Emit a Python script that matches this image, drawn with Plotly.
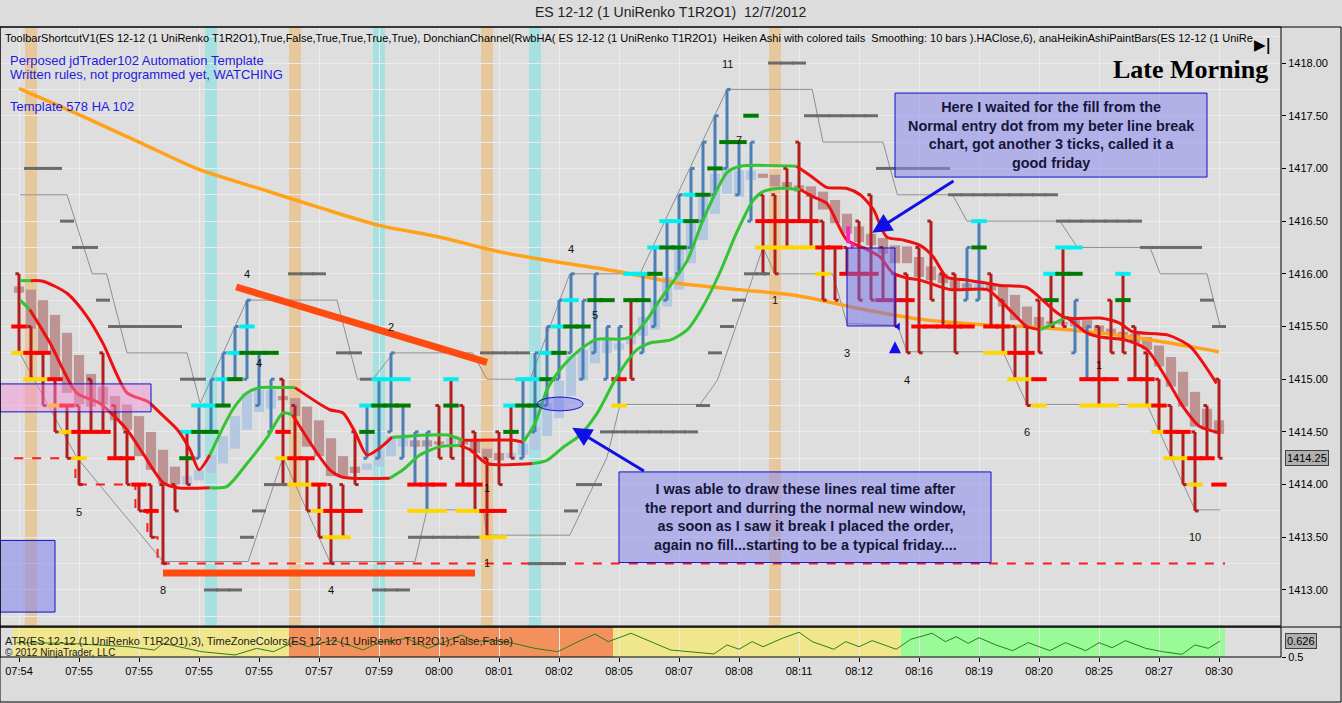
import plotly.graph_objects as go

# ---------------------------------------------------------------- data
time_labels = ["07:54", "07:55", "07:55", "07:55", "07:55", "07:57", "07:59", "08:00", "08:01", "08:02",
               "08:05", "08:07", "08:08", "08:11", "08:12", "08:16", "08:19", "08:20", "08:25", "08:27", "08:30"]
tick_bars = list(range(0, 101, 5))
price_ticks = [1413.0, 1413.5, 1414.0, 1414.5, 1415.0, 1415.5, 1416.0, 1416.5, 1417.0, 1417.5, 1418.0]

bar_high = [1416.00, 1415.50, 1415.25, 1415.00, 1414.75, 1414.75, 1415.00, 1415.25, 1414.75, 1414.50,
            1414.00, 1414.00, 1414.00, 1414.00, 1414.50, 1414.75, 1415.00, 1415.25, 1415.50, 1415.75,
            1415.25, 1415.00, 1415.00, 1414.75, 1414.25, 1414.00, 1414.00, 1414.00, 1414.50, 1414.75,
            1415.00, 1415.25, 1414.75, 1414.50, 1414.50, 1414.75, 1415.00, 1414.75, 1414.50, 1414.25,
            1414.50, 1414.75, 1415.00, 1415.25, 1415.50, 1415.75, 1416.00, 1415.75, 1416.00, 1415.50,
            1415.50, 1415.75, 1416.00, 1416.25, 1416.50, 1416.75, 1417.00, 1417.25, 1417.50, 1417.75,
            1417.25, 1417.25, 1416.75, 1416.75, 1417.00, 1417.25, 1416.75, 1416.50, 1416.25, 1416.25,
            1416.50, 1416.75, 1416.25, 1416.00, 1416.00, 1416.25, 1416.50, 1416.00, 1416.00, 1416.25,
            1416.50, 1416.00, 1415.75, 1415.50, 1415.50, 1415.75, 1416.00, 1416.25, 1415.75, 1415.50,
            1415.50, 1415.75, 1416.00, 1415.50, 1415.25, 1415.00, 1414.75, 1414.50, 1414.50, 1414.75,
            1415.00]
bar_low = [1415.25, 1415.00, 1414.75, 1414.50, 1414.25, 1414.00, 1414.50, 1414.50, 1414.25, 1414.00,
           1413.75, 1413.50, 1413.25, 1413.75, 1414.00, 1414.25, 1414.50, 1414.75, 1415.00, 1415.00,
           1414.75, 1414.50, 1414.00, 1414.00, 1413.75, 1413.50, 1413.25, 1413.50, 1414.00, 1414.25,
           1414.25, 1414.50, 1414.25, 1414.00, 1413.75, 1414.25, 1414.25, 1414.00, 1413.75, 1413.50,
           1414.00, 1414.25, 1414.25, 1414.50, 1414.75, 1415.00, 1415.25, 1415.00, 1415.25, 1415.00,
           1414.75, 1415.00, 1415.25, 1415.50, 1415.75, 1416.00, 1416.25, 1416.50, 1416.75, 1417.00,
           1416.75, 1416.50, 1416.00, 1416.00, 1416.25, 1416.50, 1416.25, 1415.75, 1415.75, 1416.00,
           1415.75, 1415.75, 1415.75, 1415.50, 1415.25, 1415.25, 1415.75, 1415.50, 1415.25, 1415.75,
           1415.75, 1415.50, 1415.25, 1415.00, 1414.75, 1415.25, 1415.50, 1415.50, 1415.25, 1415.00,
           1414.75, 1415.25, 1415.25, 1415.00, 1414.75, 1414.50, 1414.25, 1414.00, 1413.75, 1414.25,
           1414.25]
bar_dir = ("ddddddddddddddd" "uuuuuuu" "ddddddd" "uuuuuu" "ddddddd" "uuuuuuuuu" "d"
           "uuuuuuuuuu" "ddddddddddddddddd" "uu" "ddddddd" "uu" "ddddddddddd")

ha_open = [1415.88, 1415.85, 1415.75, 1415.61, 1415.44, 1415.23, 1415.05, 1414.93, 1414.84, 1414.76,
           1414.65, 1414.50, 1414.33, 1414.17, 1414.00, 1414.04, 1414.11, 1414.20, 1414.34, 1414.52,
           1414.69, 1414.72, 1414.84, 1414.82, 1414.74, 1414.61, 1414.44, 1414.27, 1414.17, 1414.14,
           1414.17, 1414.27, 1414.36, 1414.42, 1414.42, 1414.41, 1414.39, 1414.42, 1414.41, 1414.34,
           1414.30, 1414.25, 1414.28, 1414.33, 1414.46, 1414.63, 1414.84, 1414.99, 1415.15, 1415.25,
           1415.28, 1415.33, 1415.41, 1415.47, 1415.69, 1415.85, 1416.10, 1416.32, 1416.57, 1416.76,
           1416.73, 1416.89, 1416.95, 1416.94, 1416.87, 1416.84, 1416.83, 1416.78, 1416.70, 1416.57,
           1416.45, 1416.38, 1416.34, 1416.27, 1416.26, 1416.16, 1416.07, 1416.00, 1415.94, 1415.91,
           1415.86, 1415.91, 1415.88, 1415.80, 1415.69, 1415.59, 1415.55, 1415.54, 1415.56, 1415.56,
           1415.51, 1415.48, 1415.45, 1415.43, 1415.40, 1415.32, 1415.21, 1415.07, 1414.88, 1414.72,
           1414.61]
ha_close = [1415.82, 1415.48, 1415.25, 1414.99, 1414.87, 1414.76, 1414.74, 1414.76, 1414.61, 1414.52,
            1414.27, 1414.14, 1414.01, 1414.00, 1414.08, 1414.14, 1414.28, 1414.46, 1414.65, 1414.87,
            1414.90, 1414.90, 1414.80, 1414.65, 1414.36, 1414.27, 1414.08, 1414.08, 1414.11, 1414.20,
            1414.33, 1414.46, 1414.46, 1414.36, 1414.36, 1414.38, 1414.44, 1414.38, 1414.30, 1414.25,
            1414.23, 1414.30, 1414.39, 1414.55, 1414.77, 1414.99, 1415.22, 1415.28, 1415.37, 1415.39,
            1415.34, 1415.41, 1415.59, 1415.75, 1415.97, 1416.26, 1416.51, 1416.73, 1416.95, 1417.00,
            1416.98, 1416.98, 1416.91, 1416.83, 1416.81, 1416.78, 1416.73, 1416.61, 1416.48, 1416.38,
            1416.30, 1416.27, 1416.19, 1416.10, 1416.10, 1415.97, 1415.94, 1415.91, 1415.84, 1415.84,
            1415.94, 1415.84, 1415.69, 1415.56, 1415.50, 1415.50, 1415.52, 1415.52, 1415.50, 1415.48,
            1415.43, 1415.42, 1415.39, 1415.34, 1415.28, 1415.12, 1414.93, 1414.74, 1414.55, 1414.53,
            1414.48]

red_bars = [0, 1, 2, 3, 4, 5, 6, 7, 8, 9, 10, 11, 22, 23, 24, 25, 26, 27, 28, 33, 34, 35, 37, 38, 39, 40, 50,
            62, 63, 64, 65, 66, 67, 68, 69, 70, 71, 74, 75, 76, 77, 78, 79, 81, 82, 83, 84, 85, 89, 90, 91,
            93, 94, 95, 96, 97, 98, 99, 100]
red_prices = [1415.50, 1415.25, 1415.25, 1415.00, 1414.75, 1414.50, 1414.50, 1414.50, 1414.25, 1414.25, 1414.00, 1413.75,
              1414.50, 1414.25, 1414.25, 1414.00, 1413.75, 1413.75, 1413.75,
              1414.00, 1414.00, 1414.00, 1414.00, 1414.00, 1413.75, 1413.75, 1415.00,
              1416.50, 1416.50, 1416.50, 1416.50, 1416.50, 1416.25, 1416.25, 1416.00, 1416.00, 1416.00,
              1415.75, 1415.50, 1415.50, 1415.50, 1415.50, 1415.50,
              1415.50, 1415.50, 1415.25, 1415.25, 1415.00, 1415.00, 1415.00, 1415.00,
              1415.00, 1415.00, 1414.75, 1414.50, 1414.50, 1414.25, 1414.25, 1414.00]
crimson_bars = [72, 73]
crimson_prices = [1415.75, 1415.75]
yellow_bars = [0, 1, 2, 3, 4, 5, 22, 23, 24, 25, 26, 27, 33, 34, 35, 37, 38, 39, 40, 50,
               62, 63, 64, 65, 66, 67, 81, 82, 83, 84, 85, 89, 90, 91, 93, 94, 95, 96, 97, 98]
yellow_prices = [1415.25, 1415.00, 1415.00, 1414.75, 1414.50, 1414.25, 1414.25, 1414.00, 1414.00, 1413.75, 1413.50, 1413.50,
                 1413.75, 1413.75, 1413.75, 1413.75, 1413.75, 1413.50, 1413.50, 1414.75,
                 1416.25, 1416.25, 1416.25, 1416.25, 1416.25, 1416.00, 1415.25, 1415.25, 1415.00, 1415.00, 1414.75,
                 1414.75, 1414.75, 1414.75, 1414.75, 1414.75, 1414.50, 1414.25, 1414.25, 1414.00]
cyan_bars = [14, 15, 16, 17, 18, 19, 29, 30, 31, 32, 36, 41, 42, 43, 44, 45, 46, 51, 52, 53, 54, 55, 56, 80, 86, 87, 88, 92]
cyan_prices = [1414.50, 1414.75, 1414.75, 1415.00, 1415.25, 1415.50, 1414.75, 1415.00, 1415.00, 1415.00, 1415.00,
               1414.75, 1415.00, 1415.00, 1415.25, 1415.50, 1415.75, 1416.00, 1416.00, 1416.25, 1416.50, 1416.50, 1416.75,
               1416.50, 1416.00, 1416.25, 1416.25, 1416.00]
green_bars = [14, 15, 16, 17, 18, 19, 20, 21, 29, 30, 31, 32, 36, 41, 42, 43, 44, 45, 46, 47, 48, 49,
              51, 52, 53, 54, 55, 56, 57, 58, 59, 60, 61, 80, 86, 87, 88, 92]
green_prices = [1414.25, 1414.50, 1414.50, 1414.75, 1415.00, 1415.25, 1415.25, 1415.25,
                1414.50, 1414.75, 1414.75, 1414.75, 1414.75,
                1414.50, 1414.75, 1414.75, 1415.00, 1415.25, 1415.50, 1415.50, 1415.75, 1415.75,
                1415.75, 1415.75, 1416.00, 1416.25, 1416.25, 1416.50, 1416.75, 1417.00, 1417.25, 1417.25, 1417.50,
                1416.25, 1415.75, 1416.00, 1416.00, 1415.75]

grey_run_start = [1, 4, 5, 7, 8, 14, 16, 19, 20, 21, 23, 27, 29, 30, 33, 39, 43, 46, 47, 49,
                  57, 58, 59, 60, 61, 63, 66, 72, 78, 87, 94, 99, 100]
grey_run_end = [3, 4, 6, 7, 13, 15, 18, 19, 20, 22, 25, 28, 29, 32, 38, 42, 45, 46, 48, 56,
                57, 58, 59, 60, 62, 65, 71, 77, 86, 93, 98, 99, 100]
grey_run_price = [1417.0, 1416.5, 1416.25, 1415.75, 1415.5, 1415.0, 1413.0, 1413.5, 1413.75, 1414.0,
                  1416.0, 1415.25, 1415.0, 1413.0, 1413.5, 1415.25, 1413.25, 1413.75, 1414.0, 1414.5,
                  1414.75, 1415.25, 1415.5, 1415.75, 1416.0, 1418.0, 1417.5, 1417.0, 1416.75, 1416.5,
                  1416.25, 1415.75, 1415.5]

upper_bars = [0.1, 4, 6.1, 7.3, 9, 14, 15.1, 19, 26.5, 28.2, 29.5, 31.2, 37.8, 39, 42.6, 45.9, 51.75, 59, 66.1, 67,
              72, 73.2, 77.8, 79, 86.75, 88.2, 94.25, 95.1, 99, 100.1]
upper_prices = [1416.75, 1416.75, 1416.0, 1416.0, 1415.25, 1415.25, 1414.77, 1415.75, 1415.75, 1415.0,
                1415.0, 1415.25, 1415.25, 1415.0, 1415.0, 1416.0, 1416.0, 1417.75, 1417.75, 1417.25,
                1417.25, 1416.75, 1416.75, 1416.5, 1416.5, 1416.25, 1416.25, 1416.0, 1416.0, 1415.5]
lower_bars = [0, 4.8, 12, 19.1, 22, 25.9, 33, 34, 38.7, 39, 45.9, 49, 50.1, 56.75, 58.2, 62, 63, 67.8, 69,
              73.2, 74, 82, 84, 94, 98, 100.1]
lower_prices = [1415.26, 1414.26, 1413.27, 1413.27, 1414.26, 1413.27, 1413.27, 1413.76, 1413.76, 1413.52,
                1413.52, 1414.26, 1414.76, 1414.76, 1414.99, 1416.25, 1416.0, 1416.0, 1415.53, 1415.51,
                1415.26, 1415.26, 1414.76, 1414.76, 1413.76, 1413.76]

stop_bars = [-0.4, 4.7, 9.7, 10.7, 11.55, 100.5]
stop_prices = [1414.25, 1414.00, 1413.75, 1413.50, 1413.25, 1413.25]

sma_bars = list(range(0, 101, 5))
sma_prices = [1417.76, 1417.51, 1417.25, 1416.99, 1416.81, 1416.63, 1416.46, 1416.35, 1416.21, 1416.11,
              1416.02, 1415.91, 1415.85, 1415.79, 1415.67, 1415.57, 1415.52, 1415.49, 1415.44, 1415.36, 1415.26]

fast_bars = [0.1, 1.0, 2.0, 4.0, 5.7, 7.0, 9.0, 10.7, 11.75, 13.2, 14.25, 15.0, 15.9, 17.8, 19.0, 20.1, 22.0, 23.0,
             25.9, 27.0, 28.0, 29.0, 30.1, 31.1, 35.7, 37.0, 41.2, 42.0, 43.0, 44.0, 45.3, 46.75, 48.2, 50.1, 51.0,
             52.3, 53.4, 55.7, 57.0, 59.0, 60.1, 64.8, 66.2, 67.3, 69.0, 70.1, 71.2, 72.3, 73.7, 75.1, 76.2, 77.3,
             79.0, 80.7, 81.75, 84.0, 85.3, 86.5, 87.3, 90.1, 91.75, 92.8, 95.7, 97.6, 99.8]
fast_prices = [1415.935, 1415.935, 1415.93, 1415.815, 1415.59, 1415.34, 1414.87, 1414.79, 1414.68, 1414.52, 1414.33,
               1414.14, 1414.28, 1414.71, 1414.87, 1414.92, 1414.92, 1414.92, 1414.71, 1414.68, 1414.50, 1414.28,
               1414.35, 1414.45, 1414.47, 1414.42, 1414.42, 1414.40, 1414.58, 1414.90, 1415.12, 1415.28, 1415.38,
               1415.38, 1415.40, 1415.56, 1415.75, 1416.13, 1416.51, 1416.96, 1417.02, 1417.02, 1416.91, 1416.82,
               1416.81, 1416.75, 1416.61, 1416.35, 1416.32, 1416.27, 1416.16, 1415.97, 1415.94, 1415.91, 1415.89,
               1415.87, 1415.75, 1415.63, 1415.58, 1415.58, 1415.53, 1415.45, 1415.42, 1415.31, 1414.96]
fast_colors = "g" + "r" * 11 + "g" * 5 + "r" * 6 + "g" * 2 + "r" * 2 + "g" * 14 + "r" * 23

slow_bars = [0.1, 0.9, 2.6, 4.8, 6.75, 9.0, 10.3, 12.0, 13.2, 15.9, 17.3, 19.0, 20.7, 22.0, 22.8, 25.9, 27.0,
             30.9, 32.0, 33.4, 35.1, 36.75, 37.6, 39.0, 42.8, 44.0, 45.3, 46.75, 48.2, 49.8, 51.5, 52.8, 54.25,
             55.7, 57.0, 58.4, 59.8, 61.2, 62.0, 63.2, 65.1, 66.2, 67.3, 69.0, 70.7, 71.75, 72.8, 74.0, 75.1,
             77.6, 80.7, 81.75, 82.8, 84.0, 85.1, 85.9, 87.3, 89.0, 90.1, 92.3, 94.0, 95.7, 97.0, 98.4, 100.1]
slow_prices = [1415.75, 1415.66, 1415.34, 1414.87, 1414.77, 1414.52, 1414.30, 1414.02, 1413.97, 1413.97, 1413.98,
               1414.20, 1414.45, 1414.68, 1414.66, 1414.14, 1414.07, 1414.06, 1414.14, 1414.28, 1414.36, 1414.37,
               1414.33, 1414.20, 1414.20, 1414.23, 1414.35, 1414.47, 1414.68, 1415.02, 1415.28, 1415.35, 1415.37,
               1415.47, 1415.69, 1416.01, 1416.39, 1416.70, 1416.78, 1416.81, 1416.80, 1416.73, 1416.67, 1416.32,
               1416.23, 1416.16, 1416.01, 1415.96, 1415.94, 1415.85, 1415.85, 1415.75, 1415.63, 1415.50, 1415.47,
               1415.51, 1415.59, 1415.44, 1415.40, 1415.37, 1415.28, 1414.99, 1414.74, 1414.55, 1414.49]
slow_colors = "g" + "r" * 8 + "g" * 5 + "r" * 3 + "g" * 4 + "r" * 3 + "g" * 16 + "r" * 14 + "g" * 2 + "r" * 8

atr_bars = [-0.2, 4.1, 9.1, 11.3, 12, 15.2, 18, 19.8, 21.2, 23, 24.1, 26.2, 28.7, 29.8, 32.3, 34.1, 36.9, 38, 39.4, 41.2,
            43, 44.9, 46.6, 48, 49.1, 51, 54.3, 57.9, 59, 60, 61.1, 62, 63.6, 65, 66.1, 67.9, 68.9, 70, 71.1, 73.1,
            74.3, 76.1, 77.2, 78.1, 79.1, 80, 81.4, 82.8, 84.1, 85.9, 87.2, 88.9, 90, 91.1, 92.2, 93.9, 95.3, 96.9, 98,
            99.1, 100.1]
atr_values = [0.613, 0.608, 0.581, 0.555, 0.608, 0.542, 0.516, 0.568, 0.542, 0.621, 0.581, 0.634, 0.555, 0.608, 0.647,
              0.568, 0.673, 0.621, 0.634, 0.608, 0.568, 0.542, 0.621, 0.681, 0.621, 0.687, 0.555, 0.524, 0.595, 0.561,
              0.621, 0.581, 0.647, 0.695, 0.621, 0.561, 0.621, 0.581, 0.629, 0.561, 0.639, 0.687, 0.621, 0.660, 0.608,
              0.652, 0.595, 0.550, 0.613, 0.550, 0.613, 0.550, 0.613, 0.573, 0.629, 0.568, 0.542, 0.521, 0.595, 0.568,
              0.626]

tz_start = [-0.5, 22.5, 49.5, 73.5]
tz_end = [22.5, 49.5, 73.5, 100.5]
tz_colors = ["#f0e68c", "#f2915c", "#f0e68c", "#98fb98"]

band_bars = [1, 16, 23, 30, 39, 43, 63]
band_colors = ["#e6c89c", "#a6e0e0", "#e6c89c", "#a6e0e0", "#e6c89c", "#a6e0e0", "#e6c89c"]

count_text = ["11", "7", "4", "4", "2", "4", "5", "1", "3", "4", "6", "1", "10", "5", "8", "4", "1", "1"]
count_bars = [59, 60, 19, 20, 31, 46, 48, 63, 69, 74, 84, 90, 98, 5, 12, 26, 39, 39]
count_prices = [1417.99, 1417.27, 1416.0, 1415.15, 1415.5, 1416.24, 1415.61, 1415.75, 1415.25, 1414.99,
                1414.5, 1415.13, 1413.5, 1413.74, 1413.0, 1413.0, 1413.26, 1413.97]

trend_bars = [[18.1, 39.0], [12.0, 38.0]]
trend_prices = [[1415.875, 1415.16], [1413.16, 1413.16]]

note1_lines = ["Here I waited for the fill from the", "Normal entry dot from my beter line break",
               "chart, got another 3 ticks, called it a", "good friday"]
note2_lines = ["I was able to draw these lines real time after", "the report and durring the normal new window,",
               "as soon as I saw it break I placed the order,", "again no fill...starting to be a typical friday...."]
note1_box = [73.0, 99.0, 1416.918, 1417.715]
note2_box = [50.0, 81.0, 1413.26, 1414.12]
pink_box = [-1.6, 11.0, 1414.69, 1414.955]
left_box = [-1.6, 3.0, 1412.79, 1413.47]
mid_box = [69.0, 73.0, 1415.505, 1416.245]
ellipse_box = [43.17, 47.0, 1414.70, 1414.83]
arrow1 = [78.0, 1416.89, 71.1, 1416.39]   # tail x, tail y, head x, head y
arrow2 = [52.2, 1414.12, 46.1, 1414.54]

last_price = 1414.25
last_atr = 0.626

# ---------------------------------------------------------------- geometry
W, H = 1342, 703
ML, MR, MT, MB = 0, 61, 27, 46
PW, PH = W - ML - MR, H - MT - MB
BAR_PX = 12.0
X0 = -19.0 / BAR_PX
XR = [X0, X0 + PW / BAR_PX]
YR = [1412.658, 1418.342]
ATR_R = [0.5, 0.7364]


def py(pix):
    return (H - MB - pix) / PH


def pxp(pix):
    return (pix - ML) / PW


MAIN_DOM = [py(626), 1.0]
SUB_DOM = [0.0, py(627)]
FONT = "Liberation Sans"

fig = go.Figure()
shapes = []
annos = []

# background bands
for b, c in zip(band_bars, band_colors):
    shapes.append(dict(type="rect", xref="x", yref="paper", x0=b - 0.5, x1=b + 0.5,
                       y0=MAIN_DOM[0], y1=1, fillcolor=c, line_width=0, layer="below"))
for s, e, c in zip(tz_start, tz_end, tz_colors):
    shapes.append(dict(type="rect", xref="x", yref="paper", x0=s, x1=e,
                       y0=SUB_DOM[0], y1=SUB_DOM[1], fillcolor=c, line_width=0, layer="below"))

# Heiken Ashi boxes
ha_x = list(range(len(ha_open)))
ha_base = [min(o, c) for o, c in zip(ha_open, ha_close)]
ha_h = [max(abs(c - o), 0.01) for o, c in zip(ha_open, ha_close)]
ha_col = ["#b5c8e2" if c > o else "#be9393" for o, c in zip(ha_open, ha_close)]
fig.add_trace(go.Bar(x=ha_x, y=ha_h, base=ha_base, width=0.85, marker=dict(color=ha_col, line_width=0),
                     hoverinfo="skip", showlegend=False))

# donchian thin lines
for bx, pr in ((upper_bars, upper_prices), (lower_bars, lower_prices)):
    fig.add_trace(go.Scatter(x=bx, y=pr, mode="lines", line=dict(color="#8f8f8f", width=1),
                             hoverinfo="skip", showlegend=False))

# orange SMA
fig.add_trace(go.Scatter(x=sma_bars, y=sma_prices, mode="lines",
                         line=dict(color="#ffa21a", width=3.5, shape="spline", smoothing=0.8),
                         hoverinfo="skip", showlegend=False))

# stop line
fig.add_trace(go.Scatter(x=stop_bars, y=stop_prices, mode="lines",
                         line=dict(color="#ff1a1a", width=2, dash="dash", shape="hv"),
                         hoverinfo="skip", showlegend=False))

# renko bars
seg = {"d": ([], []), "u": ([], [])}
TK = 0.3
for i, (h, l, d) in enumerate(zip(bar_high, bar_low, bar_dir)):
    xs, ys = seg[d]
    if d == "d":
        xs += [i, i, None, i - TK, i, None, i, i + TK, None]
        ys += [l, h, None, h, h, None, l, l, None]
    else:
        xs += [i, i, None, i - TK, i, None, i, i + TK, None]
        ys += [l, h, None, l, l, None, h, h, None]
for d, col in (("d", "#b01e1e"), ("u", "#4a7fb5")):
    fig.add_trace(go.Scatter(x=seg[d][0], y=seg[d][1], mode="lines", line=dict(color=col, width=3),
                             hoverinfo="skip", showlegend=False))

# grey dashes
grey_x, grey_y = [], []
for s, e, p in zip(grey_run_start, grey_run_end, grey_run_price):
    for b in range(s, e + 1):
        grey_x.append(b)
        grey_y.append(p)


def dashes(xs, ys, col, size=11, w=4):
    fig.add_trace(go.Scatter(x=xs, y=ys, mode="markers",
                             marker=dict(symbol="line-ew", size=size, line=dict(color=col, width=w)),
                             hoverinfo="skip", showlegend=False))


dashes(grey_x, grey_y, "#6b6b6b", 10, 3)
dashes(yellow_bars, yellow_prices, "#ffd700")
dashes(red_bars, red_prices, "#ff0000")
dashes(crimson_bars, crimson_prices, "#d0103a")
dashes(cyan_bars, cyan_prices, "#00f0f0")
dashes(green_bars, green_prices, "#007a00")

# smoothed lines
CMAP = {"g": "#33c433", "r": "#ee1010"}


def colored_runs(bx, pr, cols):
    runs, start = [], 0
    for k in range(1, len(cols) + 1):
        if k == len(cols) or cols[k] != cols[start]:
            runs.append((cols[start], bx[start:k + 1], pr[start:k + 1]))
            start = k
    return runs


for bx, pr, cols in ((slow_bars, slow_prices, slow_colors), (fast_bars, fast_prices, fast_colors)):
    for c, rx, ry in colored_runs(bx, pr, cols):
        fig.add_trace(go.Scatter(x=rx, y=ry, mode="lines",
                                 line=dict(color=CMAP[c], width=3, shape="spline", smoothing=0.7),
                                 hoverinfo="skip", showlegend=False))

# drawn trend lines
for tx, ty in zip(trend_bars, trend_prices):
    fig.add_trace(go.Scatter(x=tx, y=ty, mode="lines", line=dict(color="#ff4a10", width=7),
                             hoverinfo="skip", showlegend=False))

# markers: magenta + blue arrow
fig.add_trace(go.Scatter(x=[69.1], y=[1416.37], mode="markers",
                         marker=dict(symbol="line-ns", size=12, line=dict(color="#ff20c0", width=4)),
                         hoverinfo="skip", showlegend=False))
fig.add_trace(go.Scatter(x=[69.45], y=[1416.27], mode="markers",
                         marker=dict(symbol="triangle-right", size=7, color="#ff20c0"),
                         hoverinfo="skip", showlegend=False))
fig.add_trace(go.Scatter(x=[73.0], y=[1415.36], mode="markers",
                         marker=dict(symbol="arrow-up", size=12, color="#1010ee", line=dict(width=0)),
                         hoverinfo="skip", showlegend=False))
fig.add_trace(go.Scatter(x=[73.25], y=[1415.5], mode="markers",
                         marker=dict(symbol="triangle-left", size=7, color="#1010ee"),
                         hoverinfo="skip", showlegend=False))

# ATR
fig.add_trace(go.Scatter(x=atr_bars, y=atr_values, mode="lines", yaxis="y2",
                         line=dict(color="#2e7d1e", width=1), hoverinfo="skip", showlegend=False))

# count labels
for t, b, p in zip(count_text, count_bars, count_prices):
    annos.append(dict(x=b, y=p, xref="x", yref="y", text=t, showarrow=False,
                      font=dict(family=FONT, size=11, color="#111111")))

# boxes
for bx, fill in ((pink_box, "rgba(245,140,215,0.45)"), (left_box, "rgba(130,130,240,0.55)"),
                 (mid_box, "rgba(110,110,235,0.5)"),
                 (note1_box, "rgba(140,140,240,0.55)"), (note2_box, "rgba(140,140,240,0.55)")):
    shapes.append(dict(type="rect", xref="x", yref="y", x0=bx[0], x1=bx[1], y0=bx[2], y1=bx[3],
                       fillcolor=fill, line=dict(color="#1010c8", width=1), layer="above"))
shapes.append(dict(type="circle", xref="x", yref="y", x0=ellipse_box[0], x1=ellipse_box[1],
                   y0=ellipse_box[2], y1=ellipse_box[3], fillcolor="rgba(110,110,240,0.45)",
                   line=dict(color="#1010d0", width=1), layer="above"))

for lines, bx in ((note1_lines, note1_box), (note2_lines, note2_box)):
    annos.append(dict(x=(bx[0] + bx[1]) / 2, y=(bx[2] + bx[3]) / 2, xref="x", yref="y",
                      xanchor="center", yanchor="middle",
                      text="<br>".join("<b>%s</b>" % s for s in lines), showarrow=False, align="center",
                      font=dict(family=FONT, size=14.4, color="#16163a")))
for a in (arrow1, arrow2):
    annos.append(dict(x=a[2], y=a[3], ax=a[0], ay=a[1], xref="x", yref="y", axref="x", ayref="y",
                      text="", showarrow=True, arrowhead=2, arrowsize=1.3, arrowwidth=3, arrowcolor="#1010e6"))


def ptext(xpix, ypix, text, anchor="left", size=11, color="#000000", family=FONT):
    return dict(x=pxp(xpix), y=py(ypix), xref="paper", yref="paper", xanchor=anchor, yanchor="middle",
                text=text, showarrow=False, font=dict(family=family, size=size, color=color))


annos += [
    ptext(671, 12, "ES 12-12 (1 UniRenko T1R2O1)  12/7/2012", "center", 14, "#222222"),
    ptext(3, 38, "ToolbarShortcutV1(ES 12-12 (1 UniRenko T1R2O1),True,False,True,True,True,True), "
                 "DonchianChannel(RwbHA( ES 12-12 (1 UniRenko T1R2O1)  Heiken Ashi with colored tails  "
                 "Smoothing: 10 bars ).HAClose,6), anaHeikinAshiPaintBars(ES 12-12 (1 UniRe"),
    ptext(8, 60, "Perposed jdTrader102 Automation Template", "left", 13, "#1c1ce0"),
    ptext(8, 75, "Written rules, not programmed yet, WATCHING", "left", 13, "#1c1ce0"),
    ptext(8, 106, "Template 578 HA 102", "left", 13, "#1c1ce0"),
    ptext(1270, 69, "<b>Late Morning</b>", "right", 26, "#000000", "Liberation Serif"),
    ptext(1262, 45, "<b>▶|</b>", "center", 15, "#000000", "DejaVu Sans"),
    ptext(3, 641, "ATR(ES 12-12 (1 UniRenko T1R2O1),3), TimeZoneColors(ES 12-12 (1 UniRenko T1R2O1),False,False)",
          "left", 11, "#202020"),
    ptext(3, 652, "© 2012 NinjaTrader, LLC", "left", 10, "#202020"),
    dict(x=1.0, y=last_price, xref="paper", yref="y", xanchor="left", yanchor="middle", xshift=4,
         text="%.2f" % last_price, showarrow=False, bgcolor="#b0b0b0", bordercolor="#404040",
         borderwidth=1, borderpad=1, font=dict(family=FONT, size=11, color="#000000")),
    dict(x=1.0, y=last_atr, xref="paper", yref="y2", xanchor="left", yanchor="middle", xshift=4,
         text="%.3f" % last_atr, showarrow=False, bgcolor="#b0b0b0", bordercolor="#404040",
         borderwidth=1, borderpad=1, font=dict(family=FONT, size=11, color="#000000")),
]

# frames
XR_FULL = (W - 1 - ML) / PW
shapes += [
    dict(type="rect", xref="paper", yref="paper", x0=0, x1=1, y0=MAIN_DOM[0], y1=1,
         line=dict(color="#000000", width=1), layer="above"),
    dict(type="rect", xref="paper", yref="paper", x0=0, x1=1, y0=SUB_DOM[0], y1=SUB_DOM[1],
         line=dict(color="#000000", width=1), layer="above"),
    dict(type="rect", xref="paper", yref="paper", x0=0, x1=XR_FULL, y0=py(702), y1=1,
         line=dict(color="#000000", width=1), layer="above"),
    dict(type="line", xref="paper", yref="paper", x0=0, x1=XR_FULL, y0=SUB_DOM[1], y1=SUB_DOM[1],
         line=dict(color="#000000", width=1), layer="above"),
]

fig.update_layout(
    width=W, height=H, margin=dict(l=ML, r=MR, t=MT, b=MB, pad=0),
    paper_bgcolor="#dcdcdc", plot_bgcolor="#dedede",
    barmode="overlay", showlegend=False,
    font=dict(family=FONT, size=11, color="#000000"),
    xaxis=dict(range=XR, anchor="y2", tickmode="array", tickvals=tick_bars, ticktext=time_labels,
               ticks="outside", ticklen=4, tickcolor="#000000", showgrid=True, gridcolor="#ebebeb",
               gridwidth=1, zeroline=False, showline=False, tickfont=dict(family=FONT, size=11)),
    yaxis=dict(domain=MAIN_DOM, range=YR, side="right", anchor="x", tickmode="array", tickvals=price_ticks,
               ticktext=["%.2f" % v for v in price_ticks], ticks="outside", ticklen=4, tickcolor="#000000",
               showgrid=True, gridcolor="#ebebeb", zeroline=False, showline=False,
               minor=dict(dtick=0.25, showgrid=True, gridcolor="#ebebeb", ticks=""),
               tickfont=dict(family=FONT, size=11)),
    yaxis2=dict(domain=SUB_DOM, range=ATR_R, side="right", anchor="x", tickmode="array", tickvals=[0.5],
                ticktext=["0.5"], ticks="outside", ticklen=4, tickcolor="#000000", showgrid=False,
                zeroline=False, showline=False, tickfont=dict(family=FONT, size=11)),
    shapes=shapes, annotations=annos,
)

fig.write_html("out.html", config={"displayModeBar": False},
               post_script="document.body.style.margin='0px';document.body.style.padding='0px';")
